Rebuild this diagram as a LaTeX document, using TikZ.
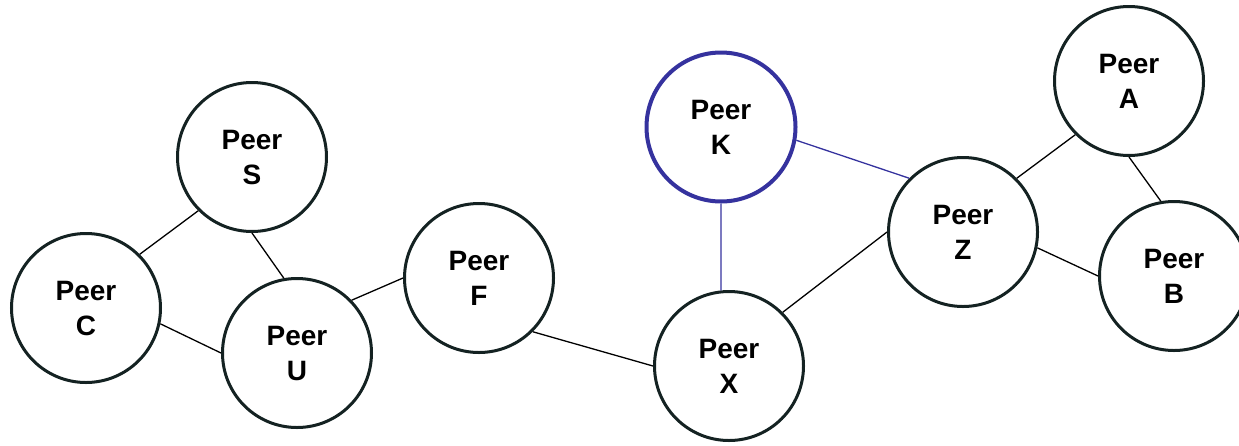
\documentclass[tikz,border=0pt]{standalone}
\usepackage{fontspec}
\setmainfont{Liberation Sans}
\definecolor{peerdark}{HTML}{142222}
\definecolor{peerblue}{HTML}{35329E}

\begin{document}
\begin{tikzpicture}[x=1pt, y=-1pt,
    peer/.style={circle, draw=peerdark, line width=3pt, minimum size=149pt, inner sep=0pt,
      align=center, font=\fontsize{28}{35}\selectfont\bfseries},
    link/.style={draw=black, line width=1.3pt}]
  \useasboundingbox (0,0) rectangle (1239,445);

  \node[peer] (S) at (252,157) {Peer\\S};
  \node[peer] (C) at (86,308) {Peer\\C};
  \node[peer] (U) at (297,353) {Peer\\U};
  \node[peer] (F) at (479,278) {Peer\\F};
  \node[peer, draw=peerblue, line width=4pt] (K) at (721,127) {Peer\\K};
  \node[peer] (X) at (729,366) {Peer\\X};
  \node[peer] (Z) at (963,232) {Peer\\Z};
  \node[peer] (A) at (1129,81) {Peer\\A};
  \node[peer] (B) at (1174,276) {Peer\\B};

  \draw[link] (S.225) -- (C.45);
  \draw[link] (S.270) -- (U.100);
  \draw[link] (C.348) -- (U.180);
  \draw[link] (U.44) -- (F.180);
  \draw[link] (F.315) -- (X.180);
  \draw[link] (X.45) -- (Z.180);
  \draw[link] (Z.45) -- (A.225);
  \draw[link] (Z.348) -- (B.180);
  \draw[link] (A.270) -- (B.100);

  \draw[link, draw=peerblue] (K.270) -- (X.96);
  \draw[link, draw=peerblue] (K.350) -- (Z.135);

\end{tikzpicture}
\end{document}
